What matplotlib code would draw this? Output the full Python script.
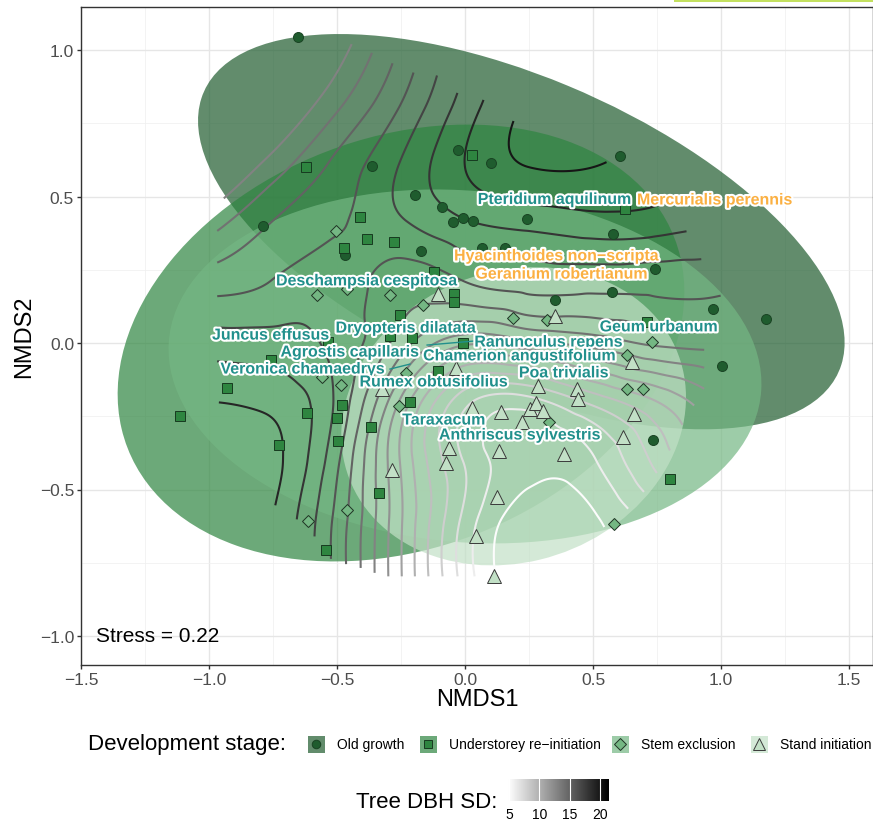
import numpy as np
import matplotlib
matplotlib.use("Agg")
import matplotlib.pyplot as plt
import matplotlib.tri as mtri
import matplotlib.patheffects as pe
from matplotlib.patches import Ellipse, Rectangle
from matplotlib.path import Path
from matplotlib.colors import LinearSegmentedColormap, Normalize
from matplotlib.cm import ScalarMappable
from matplotlib.ticker import FuncFormatter, MultipleLocator

plt.rcParams['font.family'] = ['Liberation Sans', 'DejaVu Sans']

# ---------------- site scores (NMDS1, NMDS2) by development stage ----------------
og_x = [-0.652, -0.027, 0.102, -0.363, -0.195, -0.090, -0.047, -0.008, 0.031, 0.242,
        0.605, 0.578, -0.789, -0.469, -0.172, 0.066, 0.156, 0.742, 0.574, 0.352,
        0.969, 1.176, 1.004, 0.734]
og_y = [1.044, 0.659, 0.614, 0.604, 0.505, 0.464, 0.413, 0.427, 0.416, 0.423,
        0.638, 0.372, 0.399, 0.300, 0.314, 0.324, 0.324, 0.253, 0.174, 0.147,
        0.116, 0.082, -0.078, -0.331]

us_x = [-0.621, 0.027, -0.410, -0.383, -0.277, -0.473, -0.121, -0.043, -0.043, -0.254,
        -0.207, -0.293, -0.535, -0.758, -0.930, -1.113, -0.480, -0.617, -0.500, -0.727,
        -0.496, -0.367, -0.336, -0.543, -0.215, -0.105, -0.008, 0.801, 0.625, 0.711]
us_y = [0.601, 0.642, 0.430, 0.355, 0.345, 0.324, 0.242, 0.167, 0.140, 0.096,
        0.017, 0.024, 0.003, -0.058, -0.154, -0.249, -0.212, -0.239, -0.256, -0.348,
        -0.334, -0.287, -0.512, -0.706, -0.201, -0.096, 0.000, -0.464, 0.457, 0.072]

se_x = [-0.504, -0.578, -0.461, -0.293, -0.164, -0.230, -0.559, -0.484, -0.258, -0.613,
        -0.461, 0.633, 0.695, 0.328, 0.582, 0.633, 0.730, 0.188, 0.320]
se_y = [0.382, 0.164, 0.184, 0.164, 0.130, -0.102, -0.116, -0.143, -0.215, -0.608,
        -0.570, -0.157, -0.157, -0.270, -0.618, -0.041, 0.003, 0.085, 0.078]

si_x = [-0.105, -0.035, -0.324, 0.352, 0.652, 0.285, 0.438, 0.441, 0.027, 0.141,
        0.254, 0.277, 0.305, 0.223, 0.660, 0.617, -0.063, 0.133, 0.387, -0.074,
        -0.285, 0.125, 0.043, 0.113]
si_y = [0.167, -0.085, -0.157, 0.092, -0.065, -0.147, -0.157, -0.191, -0.222, -0.235,
        -0.225, -0.205, -0.232, -0.270, -0.242, -0.321, -0.358, -0.369, -0.379, -0.410,
        -0.433, -0.526, -0.659, -0.795]

stages = ["Old growth", "Understorey re\u2212initiation", "Stem exclusion", "Stand initiation"]

# 95% ellipses per stage: centre, semi-axes, rotation (deg)
ell_cx = [0.22, -0.25, 0.0, 0.19]
ell_cy = [0.38, 0.0, -0.08, -0.25]
ell_a = [1.33, 1.13, 1.16, 0.68]
ell_b = [0.53, 0.71, 0.60, 0.50]
ell_ang = [-20, 15, -4, 12]

# ---------------- species scores ----------------
species = ["Pteridium aquilinum", "Mercurialis perennis", "Hyacinthoides non\u2212scripta",
           "Geranium robertianum", "Deschampsia cespitosa", "Geum urbanum", "Juncus effusus",
           "Dryopteris dilatata", "Ranunculus repens", "Agrostis capillaris",
           "Chamerion angustifolium", "Veronica chamaedrys", "Poa trivialis",
           "Rumex obtusifolius", "Taraxacum", "Anthriscus sylvestris"]
species_x = [0.352, 0.977, 0.359, 0.379, -0.383, 0.758, -0.758, -0.230, 0.328, -0.449,
             0.215, -0.633, 0.387, -0.121, -0.082, 0.215]
species_y = [0.490, 0.488, 0.297, 0.235, 0.212, 0.055, 0.027, 0.051, 0.003, -0.031,
             -0.044, -0.089, -0.102, -0.133, -0.263, -0.314]
species_indicator = [False, True, True, True, False, False, False, False, False, False,
                     False, False, False, False, False, False]
# short repel segments (label -> species point)
seg_x = [[0.039, -0.148], [-0.293, -0.215]]
seg_y = [[0.007, -0.007], [-0.089, -0.072]]

# ---------------- ordisurf of tree DBH SD ----------------
surf_x = [-1.0, -0.75, -0.5, -0.25, 0.0, 0.25, 0.5, 0.75, 1.05]
surf_y = [-0.85, -0.6, -0.4, -0.2, 0.0, 0.2, 0.4, 0.6, 0.8, 1.05]
surf_z = [
    [20.0, 19.2, 15.7, 11.1, 6.7, 4.3, 4.9, 6.3, 8.0],
    [20.4, 19.0, 15.7, 11.1, 6.7, 4.4, 4.85, 6.6, 9.0],
    [20.3, 19.3, 16.2, 10.9, 6.9, 5.2, 5.9, 8.3, 11.0],
    [19.0, 18.7, 16.8, 11.8, 7.3, 6.6, 8.3, 10.0, 12.5],
    [17.5, 17.4, 16.7, 14.5, 12.2, 12.7, 13.4, 14.2, 14.3],
    [15.6, 16.1, 16.5, 15.5, 15.9, 16.3, 16.3, 16.3, 16.2],
    [13.6, 15.1, 15.9, 16.8, 17.8, 18.2, 18.5, 18.4, 17.9],
    [11.5, 13.5, 15.3, 17.1, 19.0, 20.0, 20.0, 19.5, 18.5],
    [10.1, 11.7, 13.9, 16.1, 18.5, 20.2, 20.6, 19.8, 18.3],
    [7.5, 9.5, 12.2, 15.0, 17.8, 19.5, 20.2, 19.5, 18.0],
]
hull_x = [-0.969, -0.969, -0.746, -0.645, -0.578, -0.527, -0.3125, 0.10, 0.16, 0.578,
          0.656, 0.719, 0.805, 0.871, 0.9375, 0.9375, 1.0, 1.0, 0.871, 0.762,
          0.539, 0.234, 0.082, -0.031, -0.098, -0.19, -0.488]
hull_y = [0.464, -0.198, -0.556, -0.614, -0.669, -0.737, -0.80, -0.80, -0.755, -0.618,
          -0.553, -0.491, -0.369, -0.242, -0.177, -0.014, 0.078, 0.171, 0.379, 0.474,
          0.628, 0.730, 0.829, 0.857, 0.918, 0.92, 1.041]
dbh_levels = np.arange(5, 21)
stress = 0.22

# ---------------- styles ----------------
fill_cols = ["#1f5c2e", "#2e8540", "#74b783", "#c2e0c6"]
edge_cols = ["#1a4424", "#173a20", "#1f3324", "#3a3a3a"]
markers = ["o", "s", "D", "^"]
msizes = [7.2, 7.4, 6.6, 10]
teal = "#21908c"
orange = "#fbb042"

dbh_cmap = LinearSegmentedColormap.from_list("dbh", ["#ffffff", "#000000"])
dbh_norm = Normalize(4.8, 21.5)

fig = plt.figure(figsize=(8.73, 8.28), dpi=100)
ax = fig.add_axes([81 / 873, 162 / 828, 792 / 873, 658 / 828])
ax.set_xlim(-1.5, -1.5 + 792 / 256)
ax.set_ylim(-1.0 - 29 / 293, 1.0 + 43 / 293)

# grid / frame (theme_bw look)
ax.xaxis.set_major_locator(MultipleLocator(0.5))
ax.yaxis.set_major_locator(MultipleLocator(0.5))
ax.xaxis.set_minor_locator(MultipleLocator(0.25))
ax.yaxis.set_minor_locator(MultipleLocator(0.25))
ax.grid(which="major", color="#e6e6e6", lw=1.0)
ax.grid(which="minor", color="#efefef", lw=0.5)
ax.set_axisbelow(True)
for s in ax.spines.values():
    s.set_color("#333333")
    s.set_linewidth(1.0)
fmt = FuncFormatter(lambda v, p: f"{v:.1f}".replace("-", "\u2212"))
ax.xaxis.set_major_formatter(fmt)
ax.yaxis.set_major_formatter(fmt)
ax.tick_params(which="major", length=3, width=1, color="#333333", labelcolor="#4d4d4d",
               labelsize=12.5, pad=2)
ax.tick_params(which="minor", length=0)
ax.set_xlabel("NMDS1", fontsize=17, labelpad=1)
ax.set_ylabel("NMDS2", fontsize=17, labelpad=3)

# stage ellipses
for cx, cy, ea, eb, ang, col in zip(ell_cx, ell_cy, ell_a, ell_b, ell_ang, fill_cols):
    ax.add_patch(Ellipse((cx, cy), 2 * ea, 2 * eb, angle=ang,
                         fc=col, ec="none", alpha=0.7, zorder=1))

# fitted surface contours, masked to the data hull
gxx, gyy = np.meshgrid(surf_x, surf_y)
ny, nx = gxx.shape
tris = []
for j in range(ny - 1):
    for i in range(nx - 1):
        a = j * nx + i
        tris.append([a, a + 1, a + nx + 1])
        tris.append([a, a + nx + 1, a + nx])
tri = mtri.Triangulation(gxx.ravel(), gyy.ravel(), np.array(tris))
interp = mtri.CubicTriInterpolator(tri, np.array(surf_z).ravel(), kind="min_E")
fx, fy = np.meshgrid(np.linspace(surf_x[0], surf_x[-1], 320),
                     np.linspace(surf_y[0], surf_y[-1], 320))
fz = interp(fx, fy)
hull = Path(np.column_stack([hull_x, hull_y]))
inside = hull.contains_points(np.column_stack([fx.ravel(), fy.ravel()])).reshape(fx.shape)
fz = np.ma.masked_where(~inside | np.ma.getmaskarray(fz), fz)
ax.contour(fx, fy, fz, levels=dbh_levels, cmap=dbh_cmap, norm=dbh_norm,
           linewidths=1.5, zorder=2)

# site points
groups = [(og_x, og_y), (us_x, us_y), (se_x, se_y), (si_x, si_y)]
for (gx_, gy_), fc, ec, m, ms in zip(groups, fill_cols, edge_cols, markers, msizes):
    ax.plot(gx_, gy_, ls="none", marker=m, ms=ms, mfc=fc, mec=ec, mew=0.7, zorder=3)

# species labels
for sx, sy in zip(seg_x, seg_y):
    ax.plot(sx, sy, color=teal, lw=1, zorder=4)
halo = [pe.withStroke(linewidth=3, foreground="white")]
for name, x, y, ind in zip(species, species_x, species_y, species_indicator):
    ax.text(x, y, name, color=orange if ind else teal, fontsize=11.5, fontweight="bold",
            ha="center", va="center", path_effects=halo, zorder=5)

ax.text(-1.44, -1.0, f"Stress = {stress}", fontsize=15, ha="left", va="center", zorder=5)

# ---------------- legends (bottom) ----------------
lax = fig.add_axes([0, 0, 1, 1])
lax.set_xlim(0, 873)
lax.set_ylim(828, 0)
lax.axis("off")
lax.text(88, 745, "Development stage:", fontsize=16, ha="left", va="center")
key_x = [316, 428, 620, 759]
for kx, lab, fc, ec, m, ms in zip(key_x, stages, fill_cols, edge_cols, markers, msizes):
    lax.add_patch(Rectangle((kx - 8.5, 736.5), 17, 17, fc=fc, ec="none", alpha=0.7))
    lax.plot(kx, 745, marker=m, ms=ms * 0.85, mfc=fc, mec=ec, mew=0.7)
    lax.text(kx + 21, 745, lab, fontsize=10, ha="left", va="center")

cax = fig.add_axes([508 / 873, (828 - 802) / 828, 101 / 873, 22 / 828])
cb = fig.colorbar(ScalarMappable(norm=dbh_norm, cmap=dbh_cmap), cax=cax,
                  orientation="horizontal", ticks=[5, 10, 15, 20])
cb.outline.set_visible(False)
cax.tick_params(length=0, labelsize=10, pad=4)
for v in [5, 10, 15, 20]:
    cax.axvline(v, color="white", lw=0.8)
fig.text(497 / 873, 1 - 803 / 828, "Tree DBH SD:", fontsize=16, ha="right", va="center")

# thin green strip at the top right of the screenshot
fig.patches.append(Rectangle((674 / 873, 1 - 3 / 828), 199 / 873, 3 / 828,
                             transform=fig.transFigure, fc="#c3e05f", ec="none"))

fig.savefig("out.png", dpi=100)
